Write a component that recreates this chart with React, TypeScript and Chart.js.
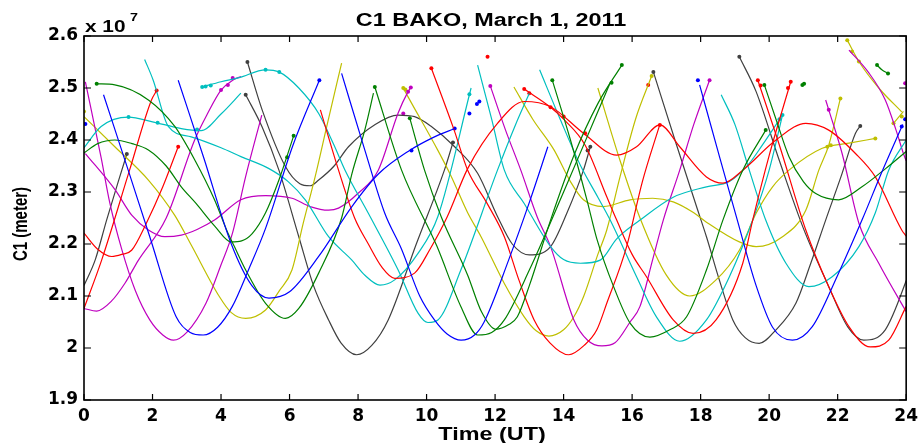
import React, { useEffect, useRef } from "react";
import { Chart, registerables } from "chart.js";

Chart.register(...registerables);

// ---- Chart texts ----
const TITLE = "C1 BAKO, March 1, 2011";
const X_TITLE = "Time (UT)";
const Y_TITLE = "C1 (meter)";
const EXP_BASE = "x 10";
const EXP_POWER = "7";

// ---- Axes ----
const X_MIN = 0, X_MAX = 24, X_STEP = 2;
const Y_MIN = 1.9, Y_MAX = 2.6, Y_STEP = 0.1; // values in units of 1e7 m

// ---- MATLAB default colour order ----
const BLUE = "#0000FF", GREEN = "#008000", RED = "#FF0000", CYAN = "#00BFBF",
  MAGENTA = "#BF00BF", YELLOW = "#BFBF00", GRAY = "#404040";

// ---- Series: [time (UT hours), C1 (x1e7 m)] ----
// Blue
const B1 = [[0.57,2.487],[1.29,2.342],[1.92,2.214],[2.69,2.06],[3.1,2.03],[3.48,2.025],[3.9,2.04],[4.33,2.08],[4.8,2.15],[5.3,2.23],[6.1,2.39],[6.87,2.515]];
const B2 = [[2.75,2.515],[3.5,2.365],[4.3,2.2],[4.9,2.12],[5.4,2.096],[6.0,2.108],[6.85,2.176],[7.82,2.272],[8.6,2.335],[9.46,2.378],[10.2,2.405],[10.82,2.422]];
const B3 = [[7.52,2.528],[8.2,2.38],[8.78,2.259],[9.27,2.19],[9.8,2.1],[10.23,2.054],[10.6,2.027],[11.01,2.015],[11.4,2.025],[11.68,2.05],[12.4,2.17],[13.0,2.28],[13.54,2.387]];
const B4 = [[17.97,2.506],[18.5,2.38],[19.04,2.253],[19.62,2.12],[20.1,2.04],[20.68,2.015],[21.26,2.041],[22.0,2.14],[22.71,2.246],[23.3,2.34],[23.9,2.43]];
const B_DOTS = [[0.04,2.431],[6.87,2.515],[9.56,2.38],[10.82,2.422],[11.25,2.451],[11.47,2.469],[11.54,2.474],[17.92,2.515],[23.87,2.426],[23.97,2.44]];
// Green
const G1 = [[0,2.375],[0.4,2.393],[0.9,2.4],[1.4,2.393],[1.88,2.381],[2.4,2.35],[2.84,2.31],[3.27,2.278],[3.81,2.235],[4.3,2.204],[4.6,2.206],[4.91,2.22],[5.3,2.26],[5.69,2.323],[6.12,2.408]];
const G2 = [[0.37,2.508],[0.9,2.506],[1.88,2.477],[2.65,2.426],[3.23,2.362],[3.81,2.285],[4.2,2.221],[4.39,2.195],[4.72,2.15],[5.3,2.086],[5.88,2.057],[6.27,2.076],[6.85,2.144],[7.52,2.25],[7.82,2.335],[8.2,2.42],[8.45,2.49]];
const G3 = [[8.49,2.502],[9.27,2.342],[10.3,2.196],[11.0,2.08],[11.49,2.025],[11.9,2.03],[12.27,2.054],[13.0,2.15],[14.0,2.3],[14.97,2.45],[15.36,2.51]];
const G4 = [[9.51,2.442],[9.94,2.342],[10.43,2.252],[11.2,2.14],[11.6,2.07],[12.02,2.036],[12.4,2.045],[12.65,2.06],[13.0,2.12],[13.62,2.246],[14.3,2.37],[15.0,2.47],[15.7,2.544]];
const G5 = [[13.67,2.515],[14.2,2.4],[14.68,2.285],[14.97,2.21],[15.46,2.118],[15.94,2.048],[16.52,2.021],[17.1,2.035],[17.59,2.06],[18.17,2.15],[18.65,2.246],[19.23,2.342],[19.9,2.419]];
const G6 = [[19.86,2.506],[20.2,2.44],[20.58,2.368],[21.0,2.32],[21.36,2.297],[22.03,2.285],[22.71,2.31],[23.4,2.345],[24,2.378]];
const G7 = [[23.15,2.544],[23.29,2.535],[23.47,2.528]];
const G_DOTS = [[0.37,2.508],[5.93,2.367],[6.12,2.408],[8.49,2.502],[9.51,2.442],[13.67,2.515],[15.4,2.51],[15.7,2.544],[19.86,2.506],[19.9,2.419],[20.97,2.506],[21.02,2.508],[23.15,2.544],[23.47,2.528]];
// Red
const R1 = [[0,2.076],[0.52,2.17],[1.33,2.342],[1.97,2.477],[2.12,2.495]];
const R2 = [[0,2.221],[0.4,2.19],[0.81,2.176],[1.1,2.18],[1.39,2.188],[1.82,2.24],[2.3,2.31],[2.75,2.387]];
const R3 = [[6.9,2.458],[7.43,2.342],[7.9,2.25],[8.3,2.2],[8.7,2.155],[9.07,2.134],[9.65,2.144],[10.1,2.19],[10.6,2.252],[11.2,2.345],[12.07,2.432],[12.85,2.474],[13.62,2.464],[14.58,2.413],[15.55,2.371],[16.13,2.387],[16.81,2.429],[17.39,2.387],[18.17,2.329],[18.65,2.317],[19.23,2.342],[20.2,2.4],[21.07,2.432],[21.74,2.419],[22.52,2.374],[23.1,2.329],[23.87,2.227],[24,2.215]];
const R4 = [[10.14,2.538],[10.8,2.42],[11.2,2.342],[11.75,2.28],[12.27,2.214],[12.7,2.13],[13.14,2.054],[13.6,2.01],[14.15,1.987],[14.6,2.005],[14.97,2.035],[15.26,2.086],[15.84,2.195],[16.3,2.32],[16.81,2.43]];
const R5 = [[12.85,2.498],[13.62,2.463],[14.0,2.44],[14.63,2.39],[15.26,2.291],[15.55,2.246],[16.0,2.18],[16.42,2.137],[17.2,2.054],[17.78,2.028],[18.45,2.054],[19.23,2.163],[19.52,2.246],[20.0,2.37],[20.63,2.512]];
const R6 = [[19.67,2.515],[20.3,2.39],[21.07,2.227],[21.74,2.118],[22.33,2.041],[22.95,2.002],[23.49,2.015],[24,2.08]];
const R_DOTS = [[2.12,2.495],[2.75,2.387],[10.14,2.538],[11.78,2.56],[12.85,2.498],[13.0,2.49],[13.62,2.463],[14.0,2.445],[14.63,2.413],[16.81,2.429],[16.47,2.506],[19.67,2.515],[19.75,2.505],[20.63,2.512],[20.55,2.5]];
// Cyan
const C1 = [[0,2.385],[0.5,2.426],[1.3,2.444],[2.0,2.435],[2.84,2.422],[3.42,2.418],[4.0,2.45],[4.58,2.49]];
const C2 = [[1.77,2.555],[2.02,2.515],[2.46,2.426],[3.13,2.406],[4.0,2.385],[4.58,2.368],[5.4,2.345],[5.96,2.32],[6.46,2.285],[7.14,2.214],[7.82,2.169],[8.2,2.14],[8.64,2.121],[9.07,2.131],[9.75,2.182],[10.33,2.253],[11.3,2.5]];
const C3 = [[3.45,2.502],[4.0,2.512],[4.53,2.52],[5.3,2.535],[5.69,2.531],[6.27,2.5],[6.85,2.451],[7.3,2.39],[7.62,2.342],[8.3,2.259],[9.17,2.15],[9.75,2.067],[10.04,2.049],[10.33,2.054],[11.0,2.15],[12.07,2.342],[12.6,2.43],[13.0,2.49]];
const C4 = [[11.49,2.544],[11.9,2.44],[12.27,2.342],[12.85,2.278],[13.62,2.195],[14.0,2.17],[14.49,2.163],[15.07,2.169],[15.55,2.21],[16.23,2.246],[17.2,2.29],[18.17,2.31],[18.84,2.32],[19.42,2.355],[19.8,2.39],[20.39,2.448]];
const C5 = [[13.3,2.535],[13.9,2.44],[14.5,2.35],[15.0,2.29],[15.36,2.246],[16.13,2.137],[16.71,2.06],[17.39,2.013],[18.17,2.054],[18.84,2.137],[19.52,2.246],[20.0,2.342],[20.39,2.448]];
const C6 = [[18.6,2.487],[19.0,2.43],[19.42,2.342],[19.9,2.246],[20.49,2.163],[21.16,2.118],[21.84,2.137],[22.62,2.195],[23.1,2.26],[23.49,2.342],[24,2.4]];
const C_DOTS = [[1.3,2.444],[2.15,2.433],[3.3,2.42],[3.45,2.502],[3.55,2.503],[3.7,2.505],[5.3,2.535],[5.7,2.531],[11.25,2.488],[20.39,2.448],[20.3,2.44]];
// Magenta
const M1 = [[0.04,2.512],[0.5,2.366],[0.75,2.28],[1.1,2.19],[1.5,2.11],[1.92,2.054],[2.3,2.025],[2.61,2.015],[3.0,2.03],[3.56,2.086],[4.0,2.16],[4.33,2.22],[4.72,2.33],[5.19,2.448]];
const M2 = [[0,2.076],[0.37,2.071],[0.8,2.09],[1.2,2.125],[1.59,2.169],[2.4,2.25],[3.23,2.4],[3.6,2.45],[4.0,2.496],[4.34,2.515],[4.58,2.522]];
const M3 = [[0.04,2.374],[0.9,2.305],[1.4,2.255],[1.88,2.227],[2.36,2.214],[2.84,2.217],[3.3,2.228],[3.81,2.246],[4.58,2.285],[5.3,2.293],[6.07,2.288],[6.6,2.272],[7.14,2.265],[7.43,2.269],[8.01,2.298],[8.59,2.342],[9.17,2.452],[9.46,2.493],[9.54,2.501]];
const M4 = [[11.86,2.504],[12.3,2.42],[12.75,2.342],[13.23,2.252],[13.62,2.195],[14.3,2.054],[14.7,2.015],[15.12,2.004],[15.5,2.01],[15.94,2.05],[16.23,2.08],[16.6,2.17],[16.91,2.246],[17.39,2.342],[17.8,2.43],[18.26,2.515]];
const M5 = [[21.65,2.477],[21.74,2.458],[22.13,2.374],[22.62,2.24],[23.2,2.163],[23.92,2.079],[24,2.07]];
const M6 = [[22.33,2.573],[22.9,2.53],[23.39,2.477],[23.7,2.42],[23.92,2.374],[24,2.36]];
const M_DOTS = [[4.0,2.496],[4.2,2.506],[4.34,2.519],[9.32,2.451],[9.46,2.493],[9.54,2.501],[11.86,2.504],[18.26,2.515],[21.74,2.458],[23.97,2.509]];
// Yellow
const Y1 = [[0,2.445],[0.9,2.387],[1.88,2.323],[2.65,2.255],[3.13,2.198],[3.95,2.099],[4.3,2.068],[4.72,2.057],[5.3,2.073],[5.7,2.11],[6.07,2.15],[6.4,2.24],[6.75,2.33],[7.1,2.43],[7.52,2.548]];
const Y2 = [[9.32,2.5],[9.46,2.483],[10.33,2.38],[10.72,2.33],[11.2,2.26],[11.59,2.214],[12.27,2.124],[12.85,2.06],[13.2,2.033],[13.57,2.023],[14.0,2.035],[14.3,2.06],[14.59,2.1],[15.0,2.18],[15.26,2.227],[15.65,2.33],[16.1,2.44],[16.57,2.523]];
const Y3 = [[12.55,2.502],[13.1,2.44],[13.72,2.381],[14.2,2.32],[14.58,2.285],[15.16,2.272],[15.94,2.285],[16.6,2.288],[17.2,2.281],[17.8,2.26],[18.17,2.242],[19.13,2.204],[19.62,2.195],[20.39,2.214],[21.07,2.265],[21.45,2.342],[21.74,2.39],[22.08,2.48]];
const Y4 = [[15.0,2.5],[15.65,2.36],[16.23,2.25],[17.0,2.14],[17.68,2.1],[18.45,2.131],[19.13,2.188],[19.62,2.259],[20.1,2.31],[20.58,2.342],[21.55,2.384],[22.33,2.394],[23.1,2.403]];
const Y5 = [[22.28,2.592],[22.62,2.551],[23.2,2.5],[23.87,2.454]];
const Y6 = [[23.63,2.432],[23.92,2.455]];
const Y_DOTS = [[0,2.455],[9.32,2.5],[9.38,2.497],[16.57,2.523],[21.7,2.387],[21.8,2.39],[22.08,2.48],[22.28,2.592],[22.42,2.57],[22.62,2.551],[23.1,2.403],[23.63,2.432],[23.87,2.445]];
// Gray
const K1 = [[0,2.12],[0.33,2.17],[0.66,2.246],[1.0,2.32],[1.25,2.373]];
const K2 = [[4.77,2.55],[5.2,2.458],[5.88,2.349],[6.3,2.316],[6.6,2.312],[6.85,2.323],[7.3,2.35],[7.72,2.387],[8.5,2.43],[9.17,2.448],[9.65,2.445],[10.14,2.426],[10.82,2.387],[11.49,2.336],[12.07,2.253],[12.5,2.2],[13.0,2.179],[13.62,2.195],[14.1,2.26],[14.58,2.342],[14.78,2.387]];
const K3 = [[4.72,2.487],[5.2,2.425],[5.69,2.342],[6.27,2.214],[6.7,2.12],[7.14,2.054],[7.5,2.01],[7.96,1.987],[8.4,2.005],[8.88,2.054],[9.7,2.2],[10.52,2.342],[10.77,2.395]];
const K4 = [[16.62,2.531],[17.25,2.4],[17.88,2.272],[18.17,2.214],[18.55,2.13],[18.94,2.054],[19.3,2.02],[19.71,2.009],[20.2,2.035],[20.78,2.086],[21.2,2.16],[21.65,2.246],[22.1,2.33],[22.52,2.413],[22.66,2.427]];
const K5 = [[19.13,2.56],[19.62,2.493],[20.3,2.36],[21.0,2.23],[21.74,2.118],[22.3,2.04],[22.76,2.015],[23.39,2.035],[23.97,2.124],[24,2.13]];
const K_DOTS = [[1.25,2.373],[4.77,2.55],[4.72,2.487],[10.77,2.395],[14.78,2.387],[14.7,2.38],[16.62,2.531],[19.13,2.56],[22.66,2.427]];

const LINES: [number[][], string][] = [
  [B1, BLUE], [B2, BLUE], [B3, BLUE], [B4, BLUE],
  [G1, GREEN], [G2, GREEN], [G3, GREEN], [G4, GREEN], [G5, GREEN], [G6, GREEN], [G7, GREEN],
  [R1, RED], [R2, RED], [R3, RED], [R4, RED], [R5, RED], [R6, RED],
  [C1, CYAN], [C2, CYAN], [C3, CYAN], [C4, CYAN], [C5, CYAN], [C6, CYAN],
  [M1, MAGENTA], [M2, MAGENTA], [M3, MAGENTA], [M4, MAGENTA], [M5, MAGENTA], [M6, MAGENTA],
  [Y1, YELLOW], [Y2, YELLOW], [Y3, YELLOW], [Y4, YELLOW], [Y5, YELLOW], [Y6, YELLOW],
  [K1, GRAY], [K2, GRAY], [K3, GRAY], [K4, GRAY], [K5, GRAY],
];
const DOTS: [number[][], string][] = [
  [B_DOTS, BLUE], [G_DOTS, GREEN], [R_DOTS, RED], [C_DOTS, CYAN], [M_DOTS, MAGENTA], [Y_DOTS, YELLOW], [K_DOTS, GRAY],
];

const SX = 1.3; // horizontal stretch of the original figure's text

function stretchedText(ctx: CanvasRenderingContext2D, text: string, x: number, y: number, font: string, align: CanvasTextAlign) {
  ctx.save();
  ctx.font = font;
  ctx.textAlign = align;
  ctx.textBaseline = "alphabetic";
  ctx.fillStyle = "#000";
  ctx.translate(x, y);
  ctx.scale(SX, 1);
  ctx.fillText(text, 0, 0);
  ctx.restore();
}

const framePlugin = {
  id: "matlabFrame",
  afterDraw(chart: any) {
    const { ctx, chartArea: a, scales } = chart;
    const xs = scales.x, ys = scales.y;
    ctx.save();
    ctx.strokeStyle = "#000";
    ctx.lineWidth = 1.6;
    ctx.strokeRect(a.left, a.top, a.right - a.left, a.bottom - a.top);
    ctx.lineWidth = 1.2;
    ctx.beginPath();
    for (let v = X_MIN; v <= X_MAX; v += X_STEP) {
      const px = xs.getPixelForValue(v);
      ctx.moveTo(px, a.bottom); ctx.lineTo(px, a.bottom - 6);
      ctx.moveTo(px, a.top); ctx.lineTo(px, a.top + 6);
    }
    for (let i = 0; i <= Math.round((Y_MAX - Y_MIN) / Y_STEP); i++) {
      const py = ys.getPixelForValue(Y_MIN + i * Y_STEP);
      ctx.moveTo(a.left, py); ctx.lineTo(a.left + 7, py);
      ctx.moveTo(a.right, py); ctx.lineTo(a.right - 7, py);
    }
    ctx.stroke();
    ctx.restore();

    const cx = (a.left + a.right) / 2;
    stretchedText(ctx, TITLE, cx - 4, 26, "bold 18px 'Liberation Sans', Arial, sans-serif", "center");
    stretchedText(ctx, X_TITLE, cx - 3, 440, "bold 18px 'Liberation Sans', Arial, sans-serif", "center");
    stretchedText(ctx, EXP_BASE, a.left + 1, 32, "bold 16px 'Liberation Sans', Arial, sans-serif", "left");
    stretchedText(ctx, EXP_POWER, a.left + 46, 21, "bold 11px 'Liberation Sans', Arial, sans-serif", "left");

    ctx.save();
    ctx.font = "bold 15px 'Liberation Sans', Arial, sans-serif";
    ctx.fillStyle = "#000";
    ctx.textAlign = "center";
    ctx.textBaseline = "alphabetic";
    ctx.translate(27, (a.top + a.bottom) / 2 + 6);
    ctx.rotate(-Math.PI / 2);
    ctx.scale(1, SX);
    ctx.fillText(Y_TITLE, 0, 0);
    ctx.restore();
  },
};

export default function App() {
  const ref = useRef<HTMLCanvasElement | null>(null);
  useEffect(() => {
    if (!ref.current) return;
    const datasets: any[] = [];
    LINES.forEach(([pts, color], i) => {
      datasets.push({
        type: "line",
        label: "pass " + (i + 1),
        data: pts.map(([x, y]) => ({ x, y })),
        borderColor: color,
        backgroundColor: color,
        borderWidth: 1.2,
        pointRadius: 0,
        fill: false,
        cubicInterpolationMode: "monotone",
      });
    });
    DOTS.forEach(([pts, color], i) => {
      datasets.push({
        type: "line",
        label: "dots " + (i + 1),
        data: pts.map(([x, y]) => ({ x, y })),
        showLine: false,
        borderColor: color,
        backgroundColor: color,
        pointRadius: 2,
        pointBorderWidth: 0,
      });
    });
    const tickFont = { family: "'DejaVu Sans', sans-serif", weight: "bold" as const, size: 17 };
    const chart = new Chart(ref.current, {
      type: "line",
      data: { datasets },
      options: {
        animation: false,
        responsive: false,
        devicePixelRatio: 1,
        layout: { padding: { left: 0, right: 13, top: 36, bottom: 0 } },
        plugins: { legend: { display: false }, tooltip: { enabled: false }, title: { display: false } },
        scales: {
          x: {
            type: "linear",
            min: X_MIN,
            max: X_MAX,
            grid: { display: false, drawTicks: false },
            border: { display: false },
            ticks: { stepSize: X_STEP, color: "#000", font: tickFont, padding: 6, maxRotation: 0 },
            afterFit: (s: any) => { s.height = 43; },
          },
          y: {
            type: "linear",
            min: Y_MIN,
            max: Y_MAX,
            grid: { display: false, drawTicks: false },
            border: { display: false },
            ticks: {
              stepSize: Y_STEP,
              color: "#000",
              font: tickFont,
              padding: 6,
              callback: (v: any) => String(Math.round(Number(v) * 10) / 10),
            },
            afterFit: (s: any) => { s.width = 84; },
          },
        },
      },
      plugins: [framePlugin],
    } as any);
    return () => chart.destroy();
  }, []);
  return (
    <div style={{ position: "absolute", left: 0, top: 0, width: 924, height: 443, background: "#fff" }}>
      <canvas ref={ref} width={924} height={443} style={{ display: "block" }} />
    </div>
  );
}
